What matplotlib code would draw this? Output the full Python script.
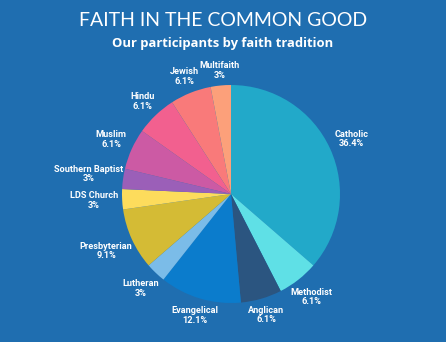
import numpy as np
import matplotlib.pyplot as plt

faiths = ['Catholic', 'Methodist', 'Anglican', 'Evangelical', 'Lutheran', 'Presbyterian',
          'LDS Church', 'Southern Baptist', 'Muslim', 'Hindu', 'Jewish', 'Multifaith']
shares = [36.4, 6.1, 6.1, 12.1, 3, 9.1, 3, 3, 6.1, 6.1, 6.1, 3]
share_text = ['36.4%', '6.1%', '6.1%', '12.1%', '3%', '9.1%', '3%', '3%', '6.1%', '6.1%', '6.1%', '3%']
colors = ['#22a9c9', '#5fe0e6', '#2b5580', '#0b7ccc', '#7bbce8', '#d4bb35',
          '#fddc5c', '#9b5fb8', '#cc5aa4', '#f2608f', '#f97a7a', '#fca07a']

bg = '#1f6eb0'
W, H = 446, 342
cx, cy, r = 231, 194, 109

fig = plt.figure(figsize=(W / 100, H / 100), dpi=100, facecolor=bg)
ax = fig.add_axes([0, 0, 1, 1])
ax.set_facecolor(bg)

wedges, _ = ax.pie(shares, colors=colors, startangle=90, counterclock=False,
                   wedgeprops={'linewidth': 0})
ax.set_xlim(-cx / r, (W - cx) / r)
ax.set_ylim(-(H - cy) / r, cy / r)
ax.set_aspect('equal')
ax.axis('off')

fig.canvas.draw()
renderer = fig.canvas.get_renderer()

# labels sit outside each slice, pushed out a bit more for wide labels at the sides
for w, name, txt in zip(wedges, faiths, share_text):
    ang = np.deg2rad((w.theta1 + w.theta2) / 2)
    t = ax.text(0, 0, name + '\n' + txt, ha='center', va='center',
                color='white', fontsize=6.6, fontweight='bold', family='Roboto', linespacing=1.1)
    hw = t.get_window_extent(renderer).width / 2
    d = (123 + 0.6 * hw * abs(np.cos(ang))) / r
    t.set_position((d * np.cos(ang), d * np.sin(ang)))

fig.text(0.5, 1 - 20 / H, 'FAITH IN THE COMMON GOOD', ha='center', va='center',
         color='white', fontsize=14, fontweight='normal', family='Lato')
fig.text(0.5, 1 - 43.5 / H, 'Our participants by faith tradition', ha='center', va='center',
         color='white', fontsize=9.4, fontweight='bold', family='Open Sans')

fig.savefig('out.png', dpi=100, facecolor=bg)
